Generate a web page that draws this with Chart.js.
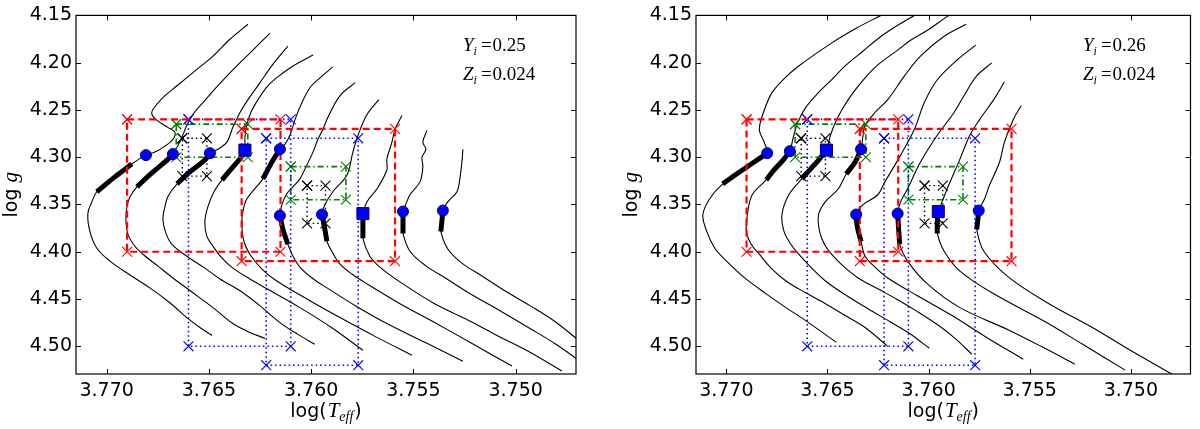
<!DOCTYPE html>
<html><head><meta charset="utf-8">
<script src="https://cdn.jsdelivr.net/npm/chart.js@4.4.1/dist/chart.umd.min.js"></script>
<style>
html,body{margin:0;padding:0;background:#fff;overflow:hidden;width:1200px;height:429px}
#w{position:relative;width:1200px;height:429px}
canvas{position:absolute;top:0}
#c1{left:0}#c2{left:620px}
</style></head><body>
<div id="w"><canvas id="c1" width="600" height="429"></canvas><canvas id="c2" width="580" height="429"></canvas></div>
<script>
// ---- axes ----
const xTicks = [3.770, 3.765, 3.760, 3.755, 3.750];
const yTicks = [4.15, 4.20, 4.25, 4.30, 4.35, 4.40, 4.45, 4.50];
const xRange = [3.74705, 3.7715];
const yRange = [4.15, 4.5293];

// ---- left panel tracks (log Teff, log g) ----
const tracksLeft = [
 [[3.76309,4.1594],[3.76397,4.1752],[3.76480,4.1930],[3.76568,4.2087],[3.76656,4.2244],[3.76725,4.2370],[3.76774,4.2496],[3.76779,4.2548],[3.76754,4.2610],[3.76701,4.2684],[3.76666,4.2737],[3.76676,4.2810],[3.76715,4.2883],[3.76764,4.2946],[3.76808,4.2978],[3.76877,4.3072],[3.76960,4.3208],[3.77048,4.3365],[3.77072,4.3470],[3.77092,4.3596],[3.77082,4.3785],[3.77048,4.3963],[3.76984,4.4099],[3.76886,4.4246],[3.76789,4.4382],[3.76691,4.4539],[3.76608,4.4696],[3.76544,4.4801],[3.76485,4.4885]],
 [[3.76202,4.1689],[3.76290,4.1877],[3.76383,4.2076],[3.76456,4.2244],[3.76529,4.2422],[3.76578,4.2548],[3.76608,4.2663],[3.76632,4.2789],[3.76656,4.2894],[3.76676,4.2967],[3.76705,4.3030],[3.76779,4.3166],[3.76852,4.3313],[3.76886,4.3418],[3.76901,4.3523],[3.76906,4.3659],[3.76896,4.3816],[3.76862,4.3942],[3.76823,4.4026],[3.76749,4.4152],[3.76676,4.4277],[3.76578,4.4434],[3.76480,4.4591],[3.76383,4.4759],[3.76300,4.4853],[3.76226,4.4916]],
 [[3.76114,4.1825],[3.76182,4.2003],[3.76251,4.2213],[3.76309,4.2391],[3.76348,4.2527],[3.76383,4.2684],[3.76412,4.2841],[3.76456,4.2915],[3.76495,4.2957],[3.76520,4.3030],[3.76593,4.3156],[3.76656,4.3282],[3.76701,4.3418],[3.76715,4.3523],[3.76725,4.3659],[3.76710,4.3806],[3.76681,4.3921],[3.76608,4.4047],[3.76520,4.4173],[3.76446,4.4288],[3.76348,4.4413],[3.76251,4.4570],[3.76153,4.4749],[3.76065,4.4874],[3.75982,4.4979]],
 [[3.75991,4.1919],[3.76055,4.1993],[3.76104,4.2056],[3.76163,4.2150],[3.76216,4.2255],[3.76260,4.2391],[3.76295,4.2527],[3.76314,4.2653],[3.76324,4.2789],[3.76324,4.2925],[3.76334,4.2978],[3.76383,4.3104],[3.76436,4.3240],[3.76475,4.3365],[3.76505,4.3523],[3.76520,4.3680],[3.76510,4.3837],[3.76480,4.3942],[3.76436,4.4068],[3.76383,4.4173],[3.76300,4.4288],[3.76216,4.4392],[3.76055,4.4591],[3.75894,4.4811],[3.75747,4.5042]],
 [[3.75894,4.2045],[3.75957,4.2160],[3.76006,4.2265],[3.76045,4.2422],[3.76075,4.2579],[3.76104,4.2768],[3.76128,4.2862],[3.76153,4.2915],[3.76192,4.3051],[3.76236,4.3229],[3.76314,4.3439],[3.76334,4.3575],[3.76339,4.3711],[3.76329,4.3889],[3.76300,4.4026],[3.76241,4.4183],[3.76168,4.4309],[3.76006,4.4518],[3.75859,4.4696],[3.75688,4.4895],[3.75507,4.5094]],
 [[3.75786,4.2213],[3.75859,4.2349],[3.75923,4.2600],[3.75942,4.2705],[3.75967,4.2810],[3.75991,4.2946],[3.76021,4.3082],[3.76055,4.3229],[3.76089,4.3313],[3.76119,4.3386],[3.76143,4.3502],[3.76153,4.3617],[3.76138,4.3764],[3.76114,4.3921],[3.76089,4.4047],[3.76055,4.4162],[3.75996,4.4277],[3.75923,4.4382],[3.75776,4.4581],[3.75630,4.4759],[3.75444,4.4958],[3.75258,4.5157]],
 [[3.75669,4.2391],[3.75727,4.2548],[3.75771,4.2768],[3.75796,4.2946],[3.75825,4.3187],[3.75894,4.3365],[3.75933,4.3502],[3.75947,4.3606],[3.75933,4.3764],[3.75923,4.3889],[3.75894,4.4015],[3.75859,4.4131],[3.75801,4.4236],[3.75727,4.4340],[3.75566,4.4549],[3.75405,4.4738],[3.75224,4.4958],[3.75018,4.5209]],
 [[3.75556,4.2558],[3.75590,4.2705],[3.75605,4.2841],[3.75630,4.3020],[3.75630,4.3135],[3.75678,4.3334],[3.75727,4.3470],[3.75747,4.3596],[3.75747,4.3732],[3.75747,4.3858],[3.75713,4.4047],[3.75664,4.4162],[3.75566,4.4319],[3.75405,4.4539],[3.75248,4.4707],[3.75101,4.4874],[3.74930,4.5063],[3.74774,4.5262]],
 [[3.75434,4.2716],[3.75454,4.2841],[3.75439,4.2915],[3.75458,4.2999],[3.75454,4.3104],[3.75468,4.3261],[3.75517,4.3397],[3.75532,4.3470],[3.75551,4.3575],[3.75551,4.3690],[3.75551,4.3806],[3.75517,4.3994],[3.75444,4.4141],[3.75336,4.4288],[3.75214,4.4455],[3.75077,4.4623],[3.74930,4.4811],[3.74803,4.4979],[3.74686,4.5157]],
 [[3.75258,4.2915],[3.75263,4.3051],[3.75273,4.3229],[3.75287,4.3365],[3.75331,4.3470],[3.75356,4.3564],[3.75361,4.3680],[3.75366,4.3785],[3.75331,4.3973],[3.75263,4.4120],[3.75165,4.4256],[3.75053,4.4413],[3.74930,4.4570],[3.74808,4.4738],[3.74686,4.4948]]
];
const markIdxLeft = [14, 9, 8, 9, 7, 11, 7, 7, 8, 5];
const thickIdxLeft = [[15,17],[9,12],[8,11],[9,12],[7,9],[11,13],[7,9],[7,9],[8,10],[5,7]];
const squareTracksLeft = [3, 7];

// ---- right panel tracks ----
const tracksRight = [
 [[3.76172,4.1427],[3.76236,4.1500],[3.76358,4.1636],[3.76480,4.1793],[3.76642,4.2035],[3.76715,4.2171],[3.76774,4.2317],[3.76813,4.2506],[3.76837,4.2705],[3.76813,4.2841],[3.76798,4.2957],[3.76862,4.3051],[3.76935,4.3156],[3.77018,4.3282],[3.77082,4.3439],[3.77116,4.3606],[3.77097,4.3785],[3.77057,4.3963],[3.76999,4.4099],[3.76909,4.4277],[3.76803,4.4445],[3.76705,4.4591],[3.76608,4.4728],[3.76456,4.4958]],
 [[3.76006,4.1427],[3.76070,4.1500],[3.76153,4.1605],[3.76241,4.1731],[3.76324,4.1877],[3.76407,4.2024],[3.76480,4.2181],[3.76554,4.2338],[3.76608,4.2475],[3.76647,4.2632],[3.76669,4.2789],[3.76686,4.2936],[3.76715,4.3020],[3.76764,4.3135],[3.76803,4.3240],[3.76872,4.3397],[3.76896,4.3606],[3.76901,4.3785],[3.76877,4.3921],[3.76837,4.4026],[3.76779,4.4173],[3.76705,4.4309],[3.76608,4.4434],[3.76510,4.4549],[3.76412,4.4675],[3.76314,4.4801],[3.76202,4.5000]],
 [[3.75835,4.1427],[3.75899,4.1500],[3.76006,4.1657],[3.76089,4.1762],[3.76153,4.1867],[3.76251,4.2024],[3.76314,4.2160],[3.76373,4.2317],[3.76422,4.2475],[3.76461,4.2632],[3.76485,4.2768],[3.76505,4.2925],[3.76544,4.3030],[3.76583,4.3124],[3.76627,4.3229],[3.76691,4.3397],[3.76725,4.3606],[3.76715,4.3785],[3.76681,4.3921],[3.76642,4.4026],[3.76583,4.4162],[3.76510,4.4309],[3.76412,4.4455],[3.76300,4.4602],[3.76192,4.4738],[3.76094,4.4864],[3.75996,4.5021]],
 [[3.75815,4.1594],[3.75923,4.1720],[3.76040,4.1930],[3.76119,4.2139],[3.76202,4.2391],[3.76265,4.2527],[3.76314,4.2663],[3.76324,4.2768],[3.76334,4.2915],[3.76363,4.3051],[3.76407,4.3177],[3.76446,4.3334],[3.76510,4.3470],[3.76544,4.3606],[3.76539,4.3785],[3.76515,4.3921],[3.76480,4.4026],[3.76422,4.4152],[3.76348,4.4277],[3.76251,4.4392],[3.76153,4.4508],[3.76055,4.4633],[3.75957,4.4770],[3.75869,4.4916],[3.75786,4.5084]],
 [[3.75767,4.1814],[3.75859,4.1972],[3.75957,4.2181],[3.76021,4.2422],[3.76070,4.2705],[3.76138,4.2978],[3.76216,4.3261],[3.76251,4.3397],[3.76324,4.3502],[3.76358,4.3606],[3.76353,4.3732],[3.76334,4.3889],[3.76314,4.4047],[3.76260,4.4173],[3.76202,4.4277],[3.76055,4.4466],[3.75884,4.4675],[3.75713,4.4906],[3.75532,4.5136]],
 [[3.75688,4.2003],[3.75762,4.2139],[3.75825,4.2349],[3.75874,4.2527],[3.75957,4.2768],[3.76040,4.3051],[3.76104,4.3334],[3.76138,4.3470],[3.76153,4.3596],[3.76148,4.3764],[3.76143,4.3921],[3.76104,4.4099],[3.76006,4.4340],[3.75845,4.4591],[3.75600,4.4832],[3.75444,4.5000],[3.75277,4.5189]],
 [[3.75625,4.2202],[3.75678,4.2391],[3.75747,4.2600],[3.75796,4.2768],[3.75845,4.3020],[3.75908,4.3334],[3.75933,4.3470],[3.75952,4.3575],[3.75957,4.3690],[3.75957,4.3806],[3.75923,4.3994],[3.75845,4.4204],[3.75678,4.4445],[3.75434,4.4727],[3.75238,4.4979],[3.75028,4.5252]],
 [[3.75542,4.2454],[3.75581,4.2600],[3.75625,4.2841],[3.75649,4.3051],[3.75698,4.3292],[3.75723,4.3439],[3.75752,4.3564],[3.75757,4.3669],[3.75762,4.3764],[3.75727,4.3994],[3.75600,4.4277],[3.75405,4.4549],[3.75190,4.4801],[3.75028,4.5010],[3.74798,4.5293],[3.74735,4.5367]]
];
const markIdxRight = [10, 11, 11, 8, 9, 8, 7, 6];
const thickIdxRight = [[10,13],[11,14],[11,14],[8,10],[9,11],[8,10],[7,9],[6,8]];
const squareTracksRight = [2, 6];

// ---- observational boxes: [logTeff hot, logTeff cool, logg top, logg bottom] ----
const redBoxes   = [[3.7690, 3.7615, 4.260, 4.400], [3.7634, 3.7559, 4.270, 4.410]];
const blueBoxes  = [[3.7660, 3.7610, 4.260, 4.500], [3.7622, 3.7577, 4.280, 4.520]];
const greenBoxes = [[3.7666, 3.7631, 4.265, 4.300], [3.7610, 3.7583, 4.310, 4.345]];
const blackBoxes = [[3.7663, 3.7651, 4.280, 4.320], [3.7602, 3.7593, 4.330, 4.370]];

const annLeft  = ['0.25', '0.024'];
const annRight = ['0.26', '0.024'];

function boxPoly(b) { return [[b[0],b[2]],[b[1],b[2]],[b[1],b[3]],[b[0],b[3]],[b[0],b[2]]]; }

function buildDatasets(tracks, markIdx, thickIdx, squares) {
  const ds = [];
  const circ = [], sq = [];
  tracks.forEach((t, i) => (squares.includes(i) ? sq : circ).push(t[markIdx[i]]));
  ds.push({data: circ, showLine: false, pointStyle: 'circle', pointRadius: 5.5,
    pointBackgroundColor: '#0000ff', pointBorderColor: '#00006a', pointBorderWidth: 1, order: 0, clip: 0});
  ds.push({data: sq, showLine: false, pointStyle: 'rect', pointRadius: 8.5,
    pointBackgroundColor: '#0000ff', pointBorderColor: '#00006a', pointBorderWidth: 1, order: 0, clip: 0});
  const boxStyles = [
    [redBoxes, '#ff0000', 2.2, [7, 4]],
    [blueBoxes, '#0000ff', 1.6, [1.5, 3]],
    [greenBoxes, '#008000', 1.6, [6, 3, 1.5, 3]],
    [blackBoxes, '#000000', 1.4, [1.5, 3]]
  ];
  boxStyles.forEach(([boxes, c, w, dash], k) => boxes.forEach(b => ds.push({
    data: boxPoly(b), showLine: true, borderColor: c, borderWidth: w, borderDash: dash, tension: 0,
    pointStyle: 'crossRot', pointRadius: 7, pointBorderColor: c, pointBorderWidth: 1.1,
    pointBackgroundColor: 'rgba(0,0,0,0)', order: 1 + k * 0.1, clip: 0
  })));
  tracks.forEach((t, i) => ds.push({
    data: t.slice(thickIdx[i][0], thickIdx[i][1] + 1), showLine: true, borderColor: '#000', borderWidth: 5,
    borderCapStyle: 'butt', pointRadius: 0, tension: 0.35, order: 2, clip: 0
  }));
  tracks.forEach(t => ds.push({
    data: t, showLine: true, borderColor: '#000', borderWidth: 1.1, pointRadius: 0, tension: 0.35, order: 3, clip: 0
  }));
  return ds;
}

function drawParts(ctx, parts, x, y) {
  parts.forEach(p => { ctx.font = p.f; ctx.fillText(p.t, x + (p.dx || 0), y + (p.dy || 0)); x += ctx.measureText(p.t).width + (p.dx || 0); });
}
function partsWidth(ctx, parts) {
  let w = 0; parts.forEach(p => { ctx.font = p.f; w += ctx.measureText(p.t).width + (p.dx || 0); }); return w;
}

const decor = {
  id: 'decor',
  afterDraw(chart, args, opts) {
    const {ctx, chartArea: a, scales: {x, y}} = chart;
    ctx.save();
    ctx.strokeStyle = '#000'; ctx.lineWidth = 1.2;
    ctx.strokeRect(a.left, a.top, a.right - a.left, a.bottom - a.top);
    ctx.lineWidth = 1;
    ctx.beginPath();
    x.ticks.forEach(t => { const p = Math.round(x.getPixelForValue(t.value)) + 0.5;
      ctx.moveTo(p, a.top); ctx.lineTo(p, a.top + 5); ctx.moveTo(p, a.bottom); ctx.lineTo(p, a.bottom - 5); });
    y.ticks.forEach(t => { const p = Math.round(y.getPixelForValue(t.value)) + 0.5;
      ctx.moveTo(a.left, p); ctx.lineTo(a.left + 5, p); ctx.moveTo(a.right, p); ctx.lineTo(a.right - 5, p); });
    ctx.stroke();
    ctx.fillStyle = '#000'; ctx.textBaseline = 'alphabetic'; ctx.textAlign = 'left';
    // x title
    const xp = [{t: 'log(', f: '19px "DejaVu Sans"'}, {t: 'T', f: 'italic 21px "Liberation Serif"', dx: 1},
                {t: 'eff', f: 'italic 14px "Liberation Serif"', dy: 4}, {t: ')', f: '19px "DejaVu Sans"', dx: 1}];
    const xw = partsWidth(ctx, xp);
    drawParts(ctx, xp, (a.left + a.right) / 2 - xw / 2, 417);
    // y title
    const yp = [{t: 'log ', f: '19px "DejaVu Sans"'}, {t: 'g', f: 'italic 21px "Liberation Serif"'}];
    const yw = partsWidth(ctx, yp);
    ctx.save(); ctx.translate(17, (a.top + a.bottom) / 2); ctx.rotate(-Math.PI / 2);
    drawParts(ctx, yp, -yw / 2, 0); ctx.restore();
    // annotation
    const ann = opts.ann;
    const ax = a.left + 387;
    const sf = '19px "Liberation Serif"', si = 'italic 19px "Liberation Serif"', ss = 'italic 12px "Liberation Serif"';
    drawParts(ctx, [{t: 'Y', f: si}, {t: 'i', f: ss, dy: 4}, {t: '=', f: sf, dx: 4}, {t: ann[0], f: sf, dx: 1}], ax, a.top + 36);
    drawParts(ctx, [{t: 'Z', f: si}, {t: 'i', f: ss, dy: 4}, {t: '=', f: sf, dx: 4}, {t: ann[1], f: sf, dx: 1}], ax, a.top + 65);
    ctx.restore();
  }
};

function makeChart(id, tracks, markIdx, thickIdx, squares, ann, padRight) {
  const tickFont = {family: 'DejaVu Sans', size: 19};
  return new Chart(document.getElementById(id), {
    type: 'scatter',
    data: {datasets: buildDatasets(tracks, markIdx, thickIdx, squares)},
    options: {
      responsive: false, animation: false, events: [],
      layout: {padding: {top: 12, right: padRight, left: 0, bottom: 0}},
      plugins: {legend: {display: false}, tooltip: {enabled: false}, decor: {ann: ann}},
      scales: {
        x: {type: 'linear', reverse: true, min: xRange[0], max: xRange[1],
          grid: {display: false, drawTicks: false}, border: {display: false},
          afterBuildTicks: s => { s.ticks = xTicks.map(v => ({value: v})); },
          afterFit: s => { s.height = 55; },
          ticks: {padding: 6, font: tickFont, color: '#000', maxRotation: 0, minRotation: 0, autoSkip: false,
            callback: v => Number(v).toFixed(3)}},
        y: {type: 'linear', reverse: true, min: yRange[0], max: yRange[1],
          grid: {display: false, drawTicks: false}, border: {display: false},
          afterBuildTicks: s => { s.ticks = yTicks.map(v => ({value: v})); },
          afterFit: s => { s.width = 76; },
          ticks: {padding: 4, font: tickFont, color: '#000', autoSkip: false,
            callback: v => Number(v).toFixed(2)}}
      }
    },
    plugins: [decor]
  });
}

makeChart('c1', tracksLeft, markIdxLeft, thickIdxLeft, squareTracksLeft, annLeft, 24);
makeChart('c2', tracksRight, markIdxRight, thickIdxRight, squareTracksRight, annRight, 4);
</script>
</body></html>
